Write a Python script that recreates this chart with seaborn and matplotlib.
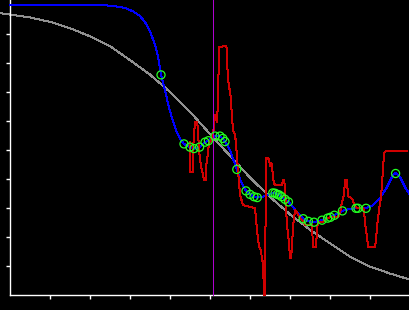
import numpy as np
import pandas as pd
import matplotlib
matplotlib.use("Agg")
import matplotlib.pyplot as plt
import seaborn as sns

# ---- data ----
gray_x = [-0.25, 0, 0.5, 1, 1.5, 2, 2.5, 3, 3.5, 4, 4.5, 5, 5.5, 6, 6.5, 7, 7.5, 8, 8.5, 9, 9.5, 10]
gray_y = [9.72, 9.67, 9.57, 9.42, 9.2, 8.92, 8.58, 8.1, 7.6, 7.0, 6.32, 5.55, 4.8, 4.05, 3.38, 2.78,
          2.25, 1.78, 1.32, 0.98, 0.74, 0.53]

blue_x = [0, 1.25, 2.375, 2.625, 2.875, 3.075, 3.25, 3.375, 3.5, 3.625, 3.7, 3.775, 3.875, 3.95,
          4.05, 4.15, 4.25, 4.35, 4.5, 4.6, 4.74, 4.875, 4.96, 5.125, 5.25, 5.32, 5.375, 5.5,
          5.67, 5.775, 5.9, 6.0, 6.1, 6.18, 6.3, 6.425, 6.57, 6.625, 6.68, 6.73, 6.79, 6.875,
          6.96, 7.075, 7.175, 7.33, 7.46, 7.6, 7.8, 7.94, 8.01, 8.11, 8.31, 8.5, 8.65, 8.7, 8.9,
          9.075, 9.25, 9.425, 9.575, 9.65, 9.75, 9.875, 10.0]
blue_y = [9.99, 9.99, 9.99, 9.96, 9.90, 9.78, 9.62, 9.41, 9.10, 8.62, 8.24, 7.59, 7.07, 6.59,
          6.10, 5.69, 5.38, 5.21, 5.10, 5.05, 5.10, 5.27, 5.32, 5.48, 5.48, 5.40, 5.29, 5.0,
          4.33, 3.90, 3.59, 3.47, 3.39, 3.36, 3.38, 3.45, 3.52, 3.51, 3.47, 3.45, 3.39, 3.30,
          3.21, 3.03, 2.86, 2.63, 2.54, 2.51, 2.58, 2.65, 2.68, 2.75, 2.90, 2.97, 2.99, 2.99, 2.99,
          3.10, 3.34, 3.72, 4.14, 4.21, 4.07, 3.72, 3.45]

pts_x = [3.775, 4.35, 4.5, 4.6, 4.74, 4.875, 4.96, 5.125, 5.25, 5.32, 5.375, 5.67, 5.9, 6.0, 6.1,
         6.18, 6.57, 6.625, 6.68, 6.73, 6.79, 6.875, 6.96, 7.33, 7.46, 7.6, 7.8, 7.94, 8.01, 8.11,
         8.31, 8.65, 8.7, 8.9, 9.64]
pts_y = [7.59, 5.21, 5.10, 5.05, 5.10, 5.27, 5.32, 5.48, 5.48, 5.40, 5.29, 4.33, 3.59, 3.47, 3.39,
         3.36, 3.52, 3.51, 3.47, 3.45, 3.39, 3.30, 3.21, 2.63, 2.54, 2.51, 2.58, 2.65, 2.68, 2.75,
         2.90, 2.99, 2.99, 2.99, 4.19]

red_x = [4.5, 4.5, 4.575, 4.575, 4.625, 4.675, 4.7, 4.725, 4.775, 4.8, 4.85, 4.9, 4.9, 4.95, 4.975,
         5.025, 5.05, 5.075, 5.1, 5.125, 5.175, 5.2, 5.225, 5.4, 5.425, 5.44, 5.475, 5.5, 5.525,
         5.55, 5.575, 5.625, 5.65, 5.675, 5.7, 5.75, 5.825, 6.125, 6.175, 6.225, 6.275, 6.3, 6.325,
         6.35, 6.375, 6.4, 6.45, 6.475, 6.5, 6.525, 6.55, 6.575, 6.6, 6.625, 6.8, 6.825, 6.85,
         6.875, 6.9, 6.925, 6.975, 7.0, 7.025, 7.05, 7.075, 7.125, 7.175, 7.2, 7.25, 7.3, 7.35,
         7.375, 7.55, 7.575, 7.65, 7.675, 7.7, 7.825, 7.925, 8.075, 8.2, 8.25, 8.3, 8.35, 8.375,
         8.425, 8.45, 8.5, 8.575, 8.6, 8.675, 8.825, 8.85, 8.875, 8.925, 8.95, 9.125, 9.15, 9.175,
         9.225, 9.275, 9.325, 9.35, 9.4, 9.925]
red_y = [5.28, 4.24, 4.24, 5.0, 5.97, 5.97, 5.69, 5.0, 4.41, 4.31, 3.97, 3.97, 4.41, 4.9, 5.24,
         5.34, 5.45, 5.59, 5.79, 6.21, 5.97, 6.66, 8.55, 8.59, 8.45, 7.66, 7.14, 7.07, 6.66,
         6.14, 5.69, 5.52, 5.24, 4.76, 4.31, 3.45, 3.10, 3.0, 2.24, 1.66, 1.55, 1.21, 1.14,
         0.0, 0.0, 4.72, 4.72, 4.66, 4.45, 4.55, 4.48, 4.07, 3.86, 3.79, 3.79, 3.97, 3.97,
         3.69, 3.03, 2.41, 1.79, 1.28, 1.28, 1.66, 2.34, 2.93, 2.86, 2.76, 2.66, 2.59, 2.52,
         2.41, 2.41, 1.66, 1.66, 2.24, 2.52, 2.52, 2.66, 2.69, 2.69, 2.83, 3.21, 3.45, 3.97,
         3.97, 3.41, 3.38, 3.28, 3.10, 3.0, 3.0, 2.93, 2.48, 2.0, 1.66, 1.66, 1.90, 2.34,
         2.93, 3.38, 4.31, 4.9, 4.97, 4.97]

vline_x = 5.08
x_ticks = [1, 2, 3, 4, 5, 6, 7, 8, 9]
y_ticks = [1, 2, 3, 4, 5, 6, 7, 8, 9]

# ---- plot ----
sns.set_style("dark")
fig = plt.figure(figsize=(4.1, 3.1), dpi=100)
fig.patch.set_facecolor("black")
ax = fig.add_axes([0, 0, 1, 1])
ax.set_facecolor("black")

y_bot = -15 / 29
y_top = 295 / 29
lw = 0.72  # one pixel

gray_df = pd.DataFrame({"x": gray_x, "y": gray_y})
blue_df = pd.DataFrame({"x": blue_x, "y": blue_y})
red_df = pd.DataFrame({"x": red_x, "y": red_y})
pts_df = pd.DataFrame({"x": pts_x, "y": pts_y})
vline_df = pd.DataFrame({"x": [vline_x, vline_x], "y": [0, y_top]})

sns.lineplot(data=gray_df, x="x", y="y", ax=ax, color="#909090", linewidth=lw,
             sort=False, estimator=None, zorder=2, antialiased=False)
sns.lineplot(data=blue_df, x="x", y="y", ax=ax, color="#0000ff", linewidth=lw,
             sort=False, estimator=None, zorder=3, antialiased=False)
sns.lineplot(data=red_df, x="x", y="y", ax=ax, color="#d00000", linewidth=lw,
             sort=False, estimator=None, zorder=4, antialiased=False)
sns.lineplot(data=vline_df, x="x", y="y", ax=ax, color="#b000d0", linewidth=lw,
             sort=False, estimator=None, zorder=5, antialiased=False)
sns.scatterplot(data=pts_df, x="x", y="y", ax=ax, s=34, facecolor="none",
                edgecolor="#22ff22", linewidth=0.9, zorder=6)

ax.set_xlim(-0.25, 10.0)
ax.set_ylim(y_bot, y_top)
ax.grid(False)
for side in ["top", "right"]:
    ax.spines[side].set_visible(False)
ax.spines["left"].set_position(("data", 0))
ax.spines["bottom"].set_position(("data", 0))
ax.spines["left"].set_bounds(0, y_top)
ax.spines["bottom"].set_bounds(0, 10)
for side in ["left", "bottom"]:
    ax.spines[side].set_color("white")
    ax.spines[side].set_linewidth(1.0)
ax.set_xticks(x_ticks)
ax.set_yticks(y_ticks)
ax.set_xticklabels([])
ax.set_yticklabels([])
ax.tick_params(axis="both", which="major", direction="out", length=3, width=1,
               color="white", bottom=True, left=True, top=False, right=False)
ax.set_xlabel("")
ax.set_ylabel("")

fig.savefig("out.png", dpi=100, facecolor="black")
